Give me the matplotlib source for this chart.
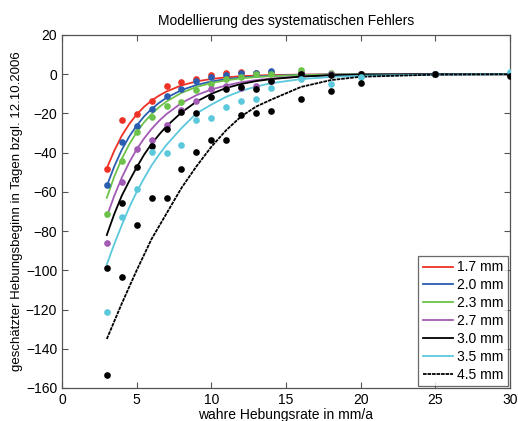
import numpy as np
import matplotlib
matplotlib.use("Agg")
import matplotlib.pyplot as plt

plt.rcParams['font.family'] = ['Liberation Sans', 'DejaVu Sans']

# measured points
x_pts = [3, 4, 5, 6, 7, 8, 9, 10, 11, 12, 13, 14, 16, 18, 20, 25, 30]
pts_17 = [-48.5, -23.4, -20.3, -13.6, -5.8, -4.1, -2.3, -0.6, 0.4, 0.9, 0.6, 0.8, 0.5, 0.3, 0.2, 0, 0]
pts_20 = [-56.5, -34.8, -26.2, -17.8, -11.1, -7.3, -3.6, -1.3, -0.2, 0.4, 0.4, 1.6, 0.5, 0.3, 0, 0, 0]
pts_23 = [-71.3, -44.2, -29.6, -22.0, -16.4, -14.0, -8.1, -5.0, -2.6, -1.3, 0, 0, 2.1, 0.5, 0, 0, 0]
pts_27 = [-86.2, -55.1, -38.3, -33.4, -26.0, -18.0, -13.7, -7.7, -6.0, -7.0, -6.0, -3.7, 0, 0, 0, 0, 0]
pts_30 = [-99.0, -65.5, -47.5, -36.6, -28.1, -19.3, -19.6, -11.5, -7.3, -6.7, -7.5, -3.3, 0.1, -0.4, 0, 0, 0]
pts_35 = [-121.1, -73.0, -58.4, -39.7, -40.3, -36.3, -23.4, -22.3, -16.9, -13.8, -12.5, -6.9, -2.5, -4.8, -1.3, 0, 1.3]
pts_45 = [-153.4, -103.3, -76.7, -63.1, -63.1, -48.2, -39.7, -33.6, -33.6, -20.7, -19.6, -18.6, -12.6, -8.4, -4.3, 0, -0.9]

# model curves
x_fit = [3, 3.5, 4, 4.5, 5, 5.5, 6, 6.5, 7, 8, 9, 10, 11, 12, 13, 14, 16, 18, 20, 25, 30]
fit_17 = [-48, -39, -31.4, -25.4, -20.5, -16.6, -13.4, -10.9, -8.8, -5.7, -3.7, -2.4, -1.6, -1.0, -0.7, -0.45, -0.2, -0.1, 0, 0, 0]
fit_20 = [-57, -47, -38.6, -31.8, -26.2, -21.5, -17.7, -14.6, -12.0, -8.1, -5.5, -3.7, -2.5, -1.7, -1.15, -0.8, -0.35, -0.15, -0.05, 0, 0]
fit_23 = [-63, -52.2, -43.2, -35.8, -29.6, -24.5, -20.3, -16.8, -13.9, -9.5, -6.5, -4.5, -3.1, -2.1, -1.45, -1.0, -0.45, -0.2, -0.1, 0, 0]
fit_27 = [-72.6, -62, -52.8, -45, -38.3, -32.7, -27.9, -23.8, -20.3, -14.7, -10.7, -7.8, -5.7, -4.1, -3.0, -2.2, -1.2, -0.6, -0.3, 0, 0]
fit_30 = [-82, -71.3, -62, -54.5, -47.5, -41, -35.5, -30.8, -26.5, -19.5, -14.0, -10.0, -7.0, -5.0, -3.5, -2.5, -1.2, -0.5, -0.2, 0, 0]
fit_35 = [-97, -86.6, -77, -68, -60, -53, -46.5, -41, -36, -27.5, -20.0, -15.5, -11.5, -8.5, -6.3, -4.6, -2.5, -1.4, -0.8, -0.2, 0]
fit_45 = [-135, -126, -117, -108.5, -100, -92, -84, -77.5, -71, -58, -47, -37, -28.5, -21.5, -16.5, -13, -6.5, -3, -1.3, -0.2, 0]

labels = ['1.7 mm', '2.0 mm', '2.3 mm', '2.7 mm', '3.0 mm', '3.5 mm', '4.5 mm']
colors = ['#ee3124', '#2a5db0', '#6cc24a', '#a25bb5', '#000000', '#5bc8dc', '#000000']
points = [pts_17, pts_20, pts_23, pts_27, pts_30, pts_35, pts_45]
fits = [fit_17, fit_20, fit_23, fit_27, fit_30, fit_35, fit_45]

fig = plt.figure(figsize=(5.18, 4.21), dpi=100)
ax = fig.add_axes([0.1197, 0.0784, 0.8649, 0.8385])

handles = []
for i in range(7):
    ls = '-' if i < 6 else (0, (2, 0.5))
    h, = ax.plot(x_fit, fits[i], color=colors[i], lw=1.3, linestyle=ls, label=labels[i], zorder=2)
    handles.append(h)
    ax.plot(x_pts, points[i], 'o', color=colors[i], ms=4.8, mec='none', zorder=3)

ax.set_xlim(0, 30)
ax.set_ylim(-160, 20)
ax.set_xticks(np.arange(0, 31, 5))
ax.set_yticks(np.arange(-160, 21, 20))
ax.tick_params(direction='in', top=True, right=True, labelsize=10, length=4, color='#555555')
for s in ax.spines.values():
    s.set_color('#555555')
    s.set_linewidth(0.9)

ax.set_title('Modellierung des systematischen Fehlers', fontsize=10, pad=7)
ax.set_xlabel('wahre Hebungsrate in mm/a', fontsize=10, labelpad=1)
ax.set_ylabel('geschätzter Hebungsbeginn in Tagen bzgl. 12.10.2006', fontsize=9.5, labelpad=2)

leg = ax.legend(handles=handles, loc='lower right', fontsize=10, frameon=True, fancybox=False,
                edgecolor='#444444', handlelength=2.2, handletextpad=0.3, labelspacing=0.28,
                borderpad=0.3, borderaxespad=0.15)
leg.get_frame().set_linewidth(0.9)

fig.savefig('out.png', dpi=100)
